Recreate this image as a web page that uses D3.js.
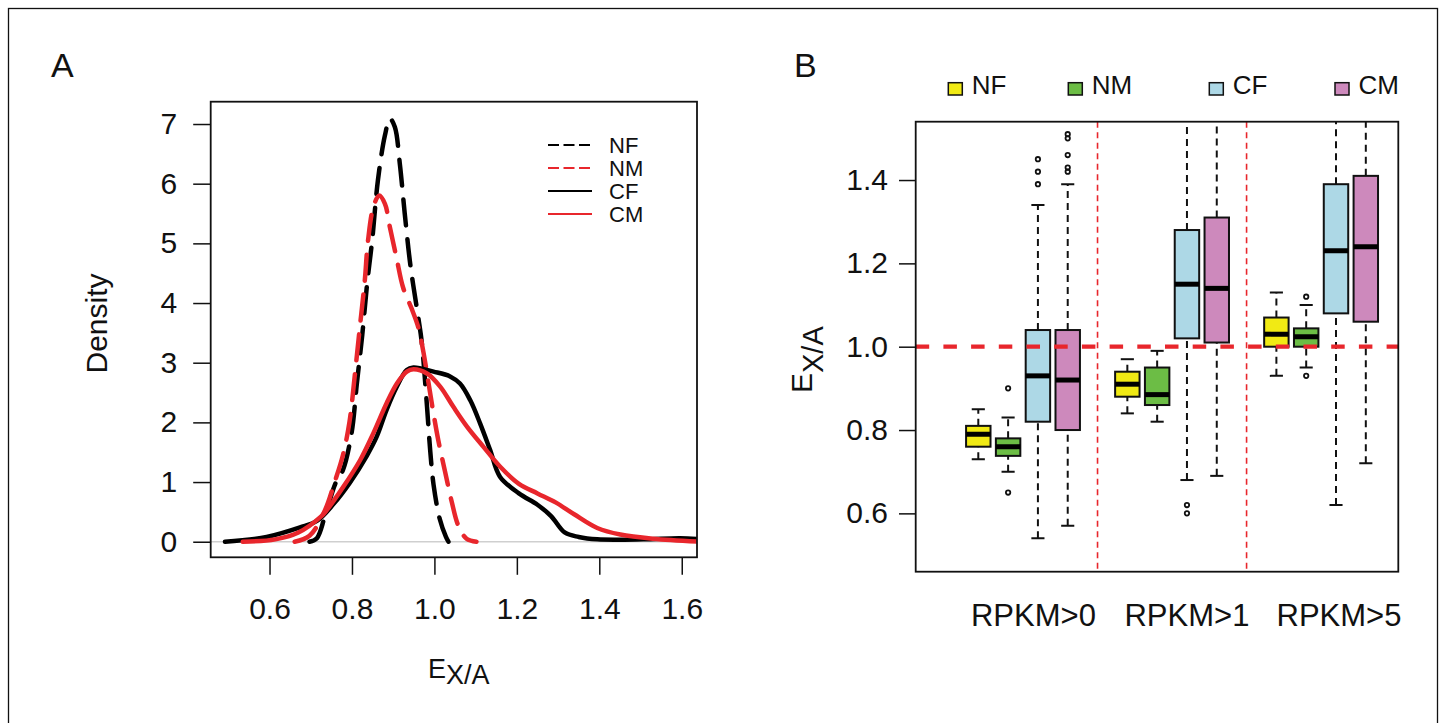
<!DOCTYPE html>
<meta charset="utf-8">
<title>Density of EX/A and boxplots by RPKM</title>
<style>
    body { margin: 0; background: #fff; }
    svg { display: block; font-family: "Liberation Sans", Arial, Helvetica, sans-serif; }
</style>
<body>
<svg id="chart" width="1446" height="723"></svg>
<script src="https://d3js.org/d3.v7.min.js"></script>
<script>

// ---- data, panel A (density curves, [EX/A, density]) ----
var seriesNames = ["NF", "NM", "CF", "CM"];
var nfDensity = [[0.697,0],[0.715,0.06],[0.734,0.42],[0.760,0.98],[0.778,1.20],[0.799,1.82],[0.812,2.66],
    [0.825,3.47],[0.837,4.34],[0.849,5.05],[0.863,6.06],[0.880,6.81],[0.892,7.09],[0.904,6.95],[0.916,6.34],
    [0.928,5.50],[0.942,4.62],[0.961,3.75],[0.969,3.36],[0.981,2.36],[0.990,1.51],[0.998,0.95],[1.013,0.38],
    [1.028,0.08],[1.034,0]];
var nmDensity = [[0.661,0],[0.697,0.10],[0.734,0.52],[0.758,1.00],[0.778,1.45],[0.794,2.01],[0.807,2.80],
    [0.819,3.59],[0.831,4.37],[0.839,5.05],[0.852,5.61],[0.866,5.80],[0.880,5.66],[0.892,5.27],[0.908,4.76],
    [0.924,4.26],[0.944,3.92],[0.961,3.59],[0.973,3.19],[0.985,2.69],[0.997,2.18],[1.010,1.68],[1.026,1.17],
    [1.042,0.67],[1.058,0.27],[1.078,0.05],[1.102,0]];
var cfDensity = [[0.492,0],[0.593,0.08],[0.674,0.24],[0.715,0.35],[0.755,0.63],[0.795,0.99],[0.836,1.44],
    [0.860,1.76],[0.884,2.21],[0.909,2.60],[0.933,2.88],[0.949,2.92],[0.998,2.85],[1.038,2.77],[1.062,2.65],
    [1.087,2.37],[1.111,1.98],[1.135,1.54],[1.159,1.09],[1.205,0.81],[1.250,0.62],[1.283,0.43],[1.316,0.155],
    [1.350,0.08],[1.395,0.04],[1.507,0.04],[1.596,0.06],[1.646,0.04]];
var cmDensity = [[0.535,0],[0.614,0.04],[0.670,0.155],[0.726,0.43],[0.739,0.53],[0.779,0.92],[0.820,1.37],
    [0.852,1.82],[0.884,2.32],[0.909,2.65],[0.933,2.85],[0.949,2.89],[0.982,2.82],[1.014,2.60],[1.046,2.26],
    [1.079,1.93],[1.119,1.59],[1.159,1.26],[1.205,0.97],[1.250,0.81],[1.294,0.66],[1.339,0.46],[1.395,0.23],
    [1.451,0.12],[1.530,0.05],[1.646,0]];
var densityTicksX = [0.6, 0.8, 1.0, 1.2, 1.4, 1.6];
var densityTicksY = [0, 1, 2, 3, 4, 5, 6, 7];

// ---- data, panel B (boxplots) ----
var boxCategories = ["RPKM>0", "RPKM>1", "RPKM>5"];
var boxGroup = ["NF","NM","CF","CM", "NF","NM","CF","CM", "NF","NM","CF","CM"];
var boxAt = [1, 2, 3, 4, 6, 7, 8, 9, 11, 12, 13, 14];
var whiskerLow = [0.73, 0.70, 0.54, 0.57, 0.84, 0.82, 0.68, 0.69, 0.93, 0.95, 0.62, 0.72];
var quartile1  = [0.76, 0.738, 0.82, 0.80, 0.88, 0.86, 1.02, 1.01, 1.00, 1.00, 1.08, 1.06];
var medians    = [0.79, 0.76, 0.93, 0.92, 0.91, 0.885, 1.15, 1.14, 1.03, 1.024, 1.23, 1.24];
var quartile3  = [0.81, 0.78, 1.04, 1.04, 0.94, 0.95, 1.28, 1.31, 1.07, 1.044, 1.39, 1.41];
var whiskerHigh = [0.85, 0.83, 1.34, 1.39, 0.97, 0.99, 1.67, 1.76, 1.13, 1.10, 1.85, 1.94];
var outliers = [[], [0.90, 0.65], [1.39, 1.42, 1.45], [1.42, 1.43, 1.46, 1.50, 1.51],
    [], [], [0.62, 0.60], [], [], [1.12, 0.93], [], []];
var categoryAt = [2.85, 8.0, 13.1];
var separatorAt = [5, 10];
var referenceLevel = 1.0;
var boxTicksY = [0.6, 0.8, 1.0, 1.2, 1.4];

// ---- styles ----
var red = "#e8262c";
var fillColor = { NF: "#f1ea14", NM: "#6cbd45", CF: "#add8e6", CM: "#cd89bc" };
var lineStyle = {
    NF: { color: "#000", dash: "26,14" },
    NM: { color: red, dash: "26,14" },
    CF: { color: "#000", dash: null },
    CM: { color: red, dash: null }
};
var legendDash = "11,4.5";
var fontFamily = '"Liberation Sans", Arial, Helvetica, sans-serif';

var svg = d3.select("#chart");

// outer frame
svg.append("rect")
    .attr("x", 8.5).attr("y", 8.5)
    .attr("width", 1429).attr("height", 800)
    .attr("fill", "none").attr("stroke", "#111").attr("stroke-width", 1.3);

// ================= panel A =================
var boxA = { left: 210.7, right: 697, top: 101.7, bottom: 557.3 };
var xA = d3.scaleLinear().domain([0.4573, 1.637]).range([boxA.left, boxA.right]);
var yA = d3.scaleLinear().domain([-0.261, 7.374]).range([boxA.bottom, boxA.top]);

svg.append("text")
    .attr("x", 51).attr("y", 77)
    .attr("font-size", "34px").attr("fill", "#111")
    .text("A");

svg.append("clipPath").attr("id", "clipA")
    .append("rect")
    .attr("x", boxA.left).attr("y", boxA.top)
    .attr("width", boxA.right - boxA.left).attr("height", boxA.bottom - boxA.top);

// zero line
svg.append("line")
    .attr("x1", boxA.left).attr("x2", boxA.right)
    .attr("y1", yA(0)).attr("y2", yA(0))
    .attr("stroke", "#cfcfcf").attr("stroke-width", 1.5);

var densityLine = d3.line()
    .x(function (d) { return xA(d[0]); })
    .y(function (d) { return yA(d[1]); })
    .curve(d3.curveCatmullRom.alpha(0.5));

var curves = [nfDensity, nmDensity, cfDensity, cmDensity];
var gCurves = svg.append("g").attr("clip-path", "url(#clipA)");
curves.forEach(function (data, i) {
    var st = lineStyle[seriesNames[i]];
    gCurves.append("path")
        .datum(data)
        .attr("d", densityLine)
        .attr("fill", "none")
        .attr("stroke", st.color)
        .attr("stroke-width", 4.5)
        .attr("stroke-linecap", "round")
        .attr("stroke-dasharray", st.dash);
});

// box
svg.append("rect")
    .attr("x", boxA.left).attr("y", boxA.top)
    .attr("width", boxA.right - boxA.left).attr("height", boxA.bottom - boxA.top)
    .attr("fill", "none").attr("stroke", "#111").attr("stroke-width", 1.8);

// x axis
var axisA = svg.append("g")
    .attr("transform", "translate(0," + boxA.bottom + ")")
    .call(d3.axisBottom(xA).tickValues(densityTicksX).tickFormat(d3.format(".1f"))
        .tickSize(17.5).tickPadding(23));
axisA.select(".domain").remove();
axisA.selectAll("line").attr("stroke", "#111").attr("stroke-width", 1.5);
axisA.selectAll("text").attr("font-size", "30px").attr("font-family", fontFamily).attr("fill", "#111");

// y axis
var axisAY = svg.append("g")
    .attr("transform", "translate(" + boxA.left + ",0)")
    .call(d3.axisLeft(yA).tickValues(densityTicksY).tickFormat(d3.format("d"))
        .tickSize(17.5).tickPadding(16));
axisAY.select(".domain").remove();
axisAY.selectAll("line").attr("stroke", "#111").attr("stroke-width", 1.5);
axisAY.selectAll("text").attr("font-size", "30px").attr("font-family", fontFamily).attr("fill", "#111");

// axis titles
svg.append("text")
    .attr("transform", "translate(107,323.5) rotate(-90)")
    .attr("text-anchor", "middle")
    .attr("font-size", "30px").attr("fill", "#111")
    .text("Density");

var xTitleA = svg.append("text")
    .attr("x", 428).attr("y", 678)
    .attr("fill", "#111");
xTitleA.append("tspan").attr("font-size", "27px").text("E");
xTitleA.append("tspan").attr("font-size", "27px").attr("dy", 6).text("X/A");

// legend
var legendA = svg.append("g");
seriesNames.forEach(function (name, i) {
    var st = lineStyle[name];
    var ly = 145 + i * 23;
    legendA.append("line")
        .attr("x1", 548).attr("x2", 592)
        .attr("y1", ly).attr("y2", ly)
        .attr("stroke", st.color).attr("stroke-width", 2)
        .attr("stroke-dasharray", st.dash ? legendDash : null);
    legendA.append("text")
        .attr("x", 609).attr("y", ly)
        .attr("dy", "0.36em")
        .attr("font-size", "22px").attr("fill", "#111")
        .text(name);
});

// ================= panel B =================
var boxB = { left: 915.7, right: 1398.3, top: 121.7, bottom: 571.7 };
var xB = d3.scaleLinear().domain([-1.1, 15.09]).range([boxB.left, boxB.right]);
var yB = d3.scaleLinear().domain([0.46, 1.54]).range([boxB.bottom, boxB.top]);
var halfBox = 0.41, halfCap = 0.22;

svg.append("text")
    .attr("x", 794).attr("y", 77)
    .attr("font-size", "34px").attr("fill", "#111")
    .text("B");

svg.append("clipPath").attr("id", "clipB")
    .append("rect")
    .attr("x", boxB.left).attr("y", boxB.top)
    .attr("width", boxB.right - boxB.left).attr("height", boxB.bottom - boxB.top);

var gBoxes = svg.append("g").attr("clip-path", "url(#clipB)");

boxAt.forEach(function (p, i) {
    var g = gBoxes.append("g");
    var cx = xB(p);
    var x0 = xB(p - halfBox), x1 = xB(p + halfBox);
    // whiskers
    [[whiskerLow[i], quartile1[i]], [quartile3[i], whiskerHigh[i]]].forEach(function (w) {
        g.append("line")
            .attr("x1", cx).attr("x2", cx)
            .attr("y1", yB(w[0])).attr("y2", yB(w[1]))
            .attr("stroke", "#111").attr("stroke-width", 2)
            .attr("stroke-dasharray", "7,5");
    });
    [whiskerLow[i], whiskerHigh[i]].forEach(function (v) {
        g.append("line")
            .attr("x1", xB(p - halfCap)).attr("x2", xB(p + halfCap))
            .attr("y1", yB(v)).attr("y2", yB(v))
            .attr("stroke", "#111").attr("stroke-width", 2);
    });
    // box
    g.append("rect")
        .attr("x", x0).attr("y", yB(quartile3[i]))
        .attr("width", x1 - x0).attr("height", yB(quartile1[i]) - yB(quartile3[i]))
        .attr("fill", fillColor[boxGroup[i]])
        .attr("stroke", "#111").attr("stroke-width", 2);
    g.append("line")
        .attr("x1", x0).attr("x2", x1)
        .attr("y1", yB(medians[i])).attr("y2", yB(medians[i]))
        .attr("stroke", "#000").attr("stroke-width", 5);
    // outliers
    outliers[i].forEach(function (v) {
        g.append("circle")
            .attr("cx", cx).attr("cy", yB(v)).attr("r", 2.2)
            .attr("fill", "none").attr("stroke", "#111").attr("stroke-width", 1.8);
    });
});

// separators and reference line
separatorAt.forEach(function (p) {
    gBoxes.append("line")
        .attr("x1", xB(p)).attr("x2", xB(p))
        .attr("y1", boxB.top).attr("y2", boxB.bottom)
        .attr("stroke", red).attr("stroke-width", 1.6)
        .attr("stroke-dasharray", "6,4.5");
});
gBoxes.append("line")
    .attr("x1", boxB.left).attr("x2", boxB.right)
    .attr("y1", yB(referenceLevel)).attr("y2", yB(referenceLevel))
    .attr("stroke", red).attr("stroke-width", 4.3)
    .attr("stroke-dasharray", "13.5,14.2");

svg.append("rect")
    .attr("x", boxB.left).attr("y", boxB.top)
    .attr("width", boxB.right - boxB.left).attr("height", boxB.bottom - boxB.top)
    .attr("fill", "none").attr("stroke", "#111").attr("stroke-width", 1.8);

// y axis
var axisBY = svg.append("g")
    .attr("transform", "translate(" + boxB.left + ",0)")
    .call(d3.axisLeft(yB).tickValues(boxTicksY).tickFormat(d3.format(".1f"))
        .tickSize(16.7).tickPadding(11));
axisBY.select(".domain").remove();
axisBY.selectAll("line").attr("stroke", "#111").attr("stroke-width", 1.5);
axisBY.selectAll("text").attr("font-size", "30px").attr("font-family", fontFamily).attr("fill", "#111");

// category labels
svg.append("g").selectAll("text")
    .data(boxCategories)
    .join("text")
    .attr("x", function (d, i) { return xB(categoryAt[i]); })
    .attr("y", 625.7)
    .attr("text-anchor", "middle")
    .attr("font-size", "31px").attr("fill", "#111")
    .text(function (d) { return d; });

// y title
var yTitleB = svg.append("text")
    .attr("transform", "translate(812,393) rotate(-90)")
    .attr("fill", "#111");
yTitleB.append("tspan").attr("font-size", "30px").text("E");
yTitleB.append("tspan").attr("font-size", "29px").attr("dy", 11).text("X/A");

// legend
var legendBX = [948.3, 1068.3, 1209.3, 1335];
var legendB = svg.append("g");
seriesNames.forEach(function (name, i) {
    legendB.append("rect")
        .attr("x", legendBX[i]).attr("y", 82.7)
        .attr("width", 14).attr("height", 12.3)
        .attr("fill", fillColor[name])
        .attr("stroke", "#111").attr("stroke-width", 1.5);
    legendB.append("text")
        .attr("x", legendBX[i] + 23.5).attr("y", 94)
        .attr("font-size", "26px").attr("fill", "#111")
        .text(name);
});

</script>
</body>
